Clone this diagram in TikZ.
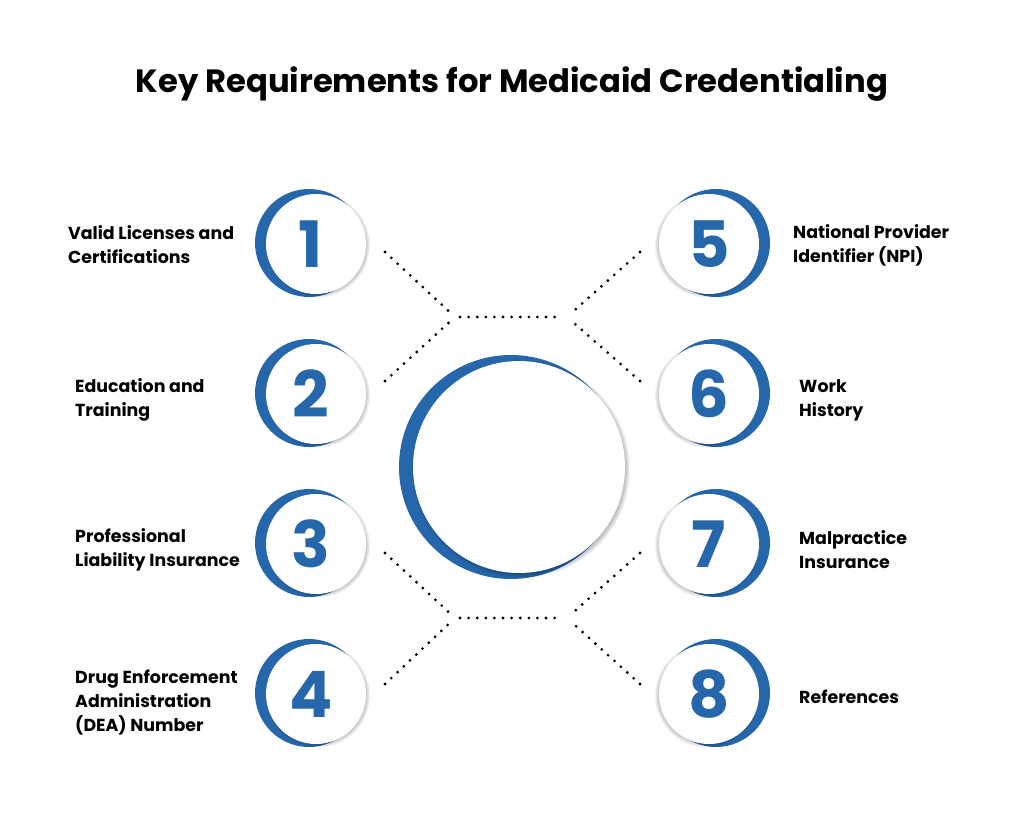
\documentclass[tikz,border=0pt]{standalone}
\usepackage{fontspec}
\setmainfont{Poppins}
\usetikzlibrary{positioning}
\definecolor{credblue}{RGB}{37,103,170}

\tikzset{
  disc/.style={circle, fill=white, minimum size=100pt, inner sep=0pt},
  digit/.style={font=\bfseries\fontsize{64}{64}\selectfont, text=credblue, inner sep=0pt},
  itemtext/.style={align=left, anchor=west, inner sep=0pt, font=\bfseries\fontsize{17.4}{24}\selectfont},
  dotline/.style={line width=3.1pt, line cap=round, dash pattern=on 0pt off 8.6pt}
}

\begin{document}
\begin{tikzpicture}[x=1pt,y=-1pt]
\useasboundingbox (0,0) rectangle (1024,813);
\fill[white] (0,0) rectangle (1024,813);

% Title
\node[font=\bfseries\fontsize{32.2}{32}\selectfont] (title) at (512,84) {Key Requirements for Medicaid Credentialing};

% Centre circle
\fill[credblue] (511,467) circle (112);
\foreach \k in {1,...,5}
  \fill[black, opacity=0.05] (521,469) circle (104+\k);
\node[disc, minimum size=212pt] (hub) at (519,467) {};

% Left discs
\foreach \n/\y in {1/244, 2/394, 3/544, 4/694} {
  \fill[credblue] (309,\y-1) circle (54);
  \foreach \k in {1,...,4}
    \fill[black, opacity=0.05] (318,\y+1.5) circle (48+\k);
  \node[disc] (d\n) at (316,\y) {};
  \node[digit] (n\n) at (311,\y) {\n};
}

% Right discs
\foreach \n/\y in {5/244, 6/394, 7/544, 8/694} {
  \fill[credblue] (716,\y-1) circle (54);
  \foreach \k in {1,...,4}
    \fill[black, opacity=0.05] (707,\y+1.5) circle (48+\k);
  \node[disc] (d\n) at (709,\y) {};
  \node[digit] (n\n) at (709,\y) {\n};
}

% Labels
\node[itemtext] (t1) at (68,245) {Valid Licenses and\\Certifications};
\node[itemtext] (t2) at (75,400) {Education and\\Training};
\node[itemtext] (t3) at (75,550) {Professional\\Liability Insurance};
\node[itemtext] (t4) at (75,702) {Drug Enforcement\\Administration\\(DEA) Number};
\node[itemtext] (t5) at (793,245) {National Provider\\Identifier (NPI)};
\node[itemtext] (t6) at (799,400) {Work\\History};
\node[itemtext] (t7) at (799,550) {Malpractice\\Insurance};
\node[itemtext] (t8) at (799,697) {References};

% Dotted connectors
\coordinate (s1) at (385,252);
\coordinate (s2) at (385,381);
\coordinate (s3) at (385,553);
\coordinate (s4) at (385,684);
\coordinate (s5) at (640,252);
\coordinate (s6) at (640,381);
\coordinate (s7) at (640,553);
\coordinate (s8) at (640,684);
\coordinate (jtl) at (455,317);
\coordinate (jtr) at (567,317);
\coordinate (jbl) at (455,618);
\coordinate (jbr) at (567,618);

\draw[dotline, shorten >=5pt] (s1) -- (jtl);
\draw[dotline, shorten >=5pt] (s2) -- (jtl);
\draw[dotline, shorten >=5pt] (s5) -- (jtr);
\draw[dotline, shorten >=5pt] (s6) -- (jtr);
\draw[dotline, shorten >=5pt] (s3) -- (jbl);
\draw[dotline, shorten >=5pt] (s4) -- (jbl);
\draw[dotline, shorten >=5pt] (s7) -- (jbr);
\draw[dotline, shorten >=5pt] (s8) -- (jbr);
\draw[dotline, shorten <=5pt, shorten >=5pt] (jtl) -- (jtr);
\draw[dotline, shorten <=5pt, shorten >=5pt] (jbl) -- (jbr);
\end{tikzpicture}
\end{document}
